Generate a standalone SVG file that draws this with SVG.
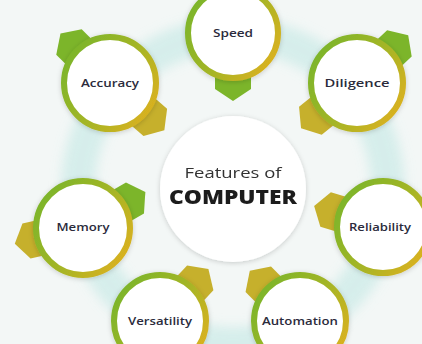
<svg xmlns="http://www.w3.org/2000/svg" xmlns:xlink="http://www.w3.org/1999/xlink" width="422" height="344" viewBox="0 0 422 344">
  <defs>
    <linearGradient id="ringGrad" x1="0.05" y1="0.2" x2="0.95" y2="0.8">
      <stop offset="0" stop-color="#7db52a"/>
      <stop offset="0.55" stop-color="#a6b526"/>
      <stop offset="1" stop-color="#d8b11f"/>
    </linearGradient>
    <filter id="soft" x="-20%" y="-20%" width="140%" height="140%">
      <feDropShadow dx="0" dy="1" stdDeviation="2.5" flood-color="#000" flood-opacity="0.18"/>
    </filter>
    <filter id="blur" x="-20%" y="-20%" width="140%" height="140%">
      <feGaussianBlur stdDeviation="6"/>
    </filter>
    <path id="tab" d="M-16,-18 L10,-18 L22,0 L10,18 L-16,18 Z"/>
  </defs>
  <style>
    .ring { fill: #ffffff; stroke: url(#ringGrad); stroke-width: 6; }
    .tabG { fill: #7cb52a; }
    .tabY { fill: #c6b02c; }
    .lbl { font-family: "Open Sans", "DejaVu Sans", sans-serif; font-size: 11px; font-weight: 600; fill: #2b2b3c; text-anchor: middle; }
    .t1 { font-family: "Open Sans", "DejaVu Sans", sans-serif; font-size: 15px; font-weight: 500; fill: #333333; text-anchor: middle; }
    .t2 { font-family: "Open Sans", "DejaVu Sans", sans-serif; font-size: 20px; font-weight: 800; fill: #1e1e1e; text-anchor: middle; }
  </style>

  <rect x="0" y="0" width="422" height="344" fill="#f3f7f6"/>

  <g id="connectors">
    <circle cx="233" cy="189" r="155" fill="none" stroke="#d3edea" stroke-width="34" opacity="0.9" filter="url(#blur)"/>
  </g>

  <g id="center" filter="url(#soft)">
    <circle cx="233" cy="189" r="73" fill="#ffffff"/>
    <text class="t1" x="233" y="178" textLength="97" lengthAdjust="spacingAndGlyphs">Features of</text>
    <text class="t2" x="233" y="204" textLength="128" lengthAdjust="spacingAndGlyphs">COMPUTER</text>
  </g>

  <g id="speed">
    <use href="#tab" class="tabG" transform="translate(233,33) rotate(90) translate(46,0)"/>
    <circle class="ring" cx="233" cy="33" r="45" filter="url(#soft)"/>
    <text class="lbl" x="233" y="37" textLength="40" lengthAdjust="spacingAndGlyphs">Speed</text>
  </g>

  <g id="accuracy">
    <use href="#tab" class="tabG" transform="translate(110,83) rotate(-135) translate(48,0)"/>
    <use href="#tab" class="tabY" transform="translate(110,83) rotate(41) translate(50,0)"/>
    <circle class="ring" cx="110" cy="83" r="46" filter="url(#soft)"/>
    <text class="lbl" x="110" y="87" textLength="58" lengthAdjust="spacingAndGlyphs">Accuracy</text>
  </g>

  <g id="diligence">
    <use href="#tab" class="tabG" transform="translate(357,83) rotate(-43) translate(48,0)"/>
    <use href="#tab" class="tabY" transform="translate(357,83) rotate(141) translate(50,0)"/>
    <circle class="ring" cx="357" cy="83" r="46" filter="url(#soft)"/>
    <text class="lbl" x="357" y="87" textLength="65" lengthAdjust="spacingAndGlyphs">Diligence</text>
  </g>

  <g id="memory">
    <use href="#tab" class="tabG" transform="translate(83,228) rotate(-30) translate(50,0)"/>
    <use href="#tab" class="tabY" transform="translate(83,228) rotate(167) translate(48,0)"/>
    <circle class="ring" cx="83" cy="228" r="47" filter="url(#soft)"/>
    <text class="lbl" x="83" y="231" textLength="53" lengthAdjust="spacingAndGlyphs">Memory</text>
  </g>

  <g id="reliability">
    <use href="#tab" class="tabY" transform="translate(383,227) rotate(197) translate(50,0)"/>
    <circle class="ring" cx="383" cy="227" r="46" filter="url(#soft)"/>
    <text class="lbl" x="380" y="231" textLength="62" lengthAdjust="spacingAndGlyphs">Reliability</text>
  </g>

  <g id="versatility">
    <use href="#tab" class="tabY" transform="translate(160,321) rotate(-47) translate(49,0)"/>
    <circle class="ring" cx="160" cy="321" r="46" filter="url(#soft)"/>
    <text class="lbl" x="160" y="325" textLength="64" lengthAdjust="spacingAndGlyphs">Versatility</text>
  </g>

  <g id="automation">
    <use href="#tab" class="tabY" transform="translate(300,321) rotate(-135) translate(49,0)"/>
    <circle class="ring" cx="300" cy="321" r="46" filter="url(#soft)"/>
    <text class="lbl" x="300" y="325" textLength="76" lengthAdjust="spacingAndGlyphs">Automation</text>
  </g>
</svg>
